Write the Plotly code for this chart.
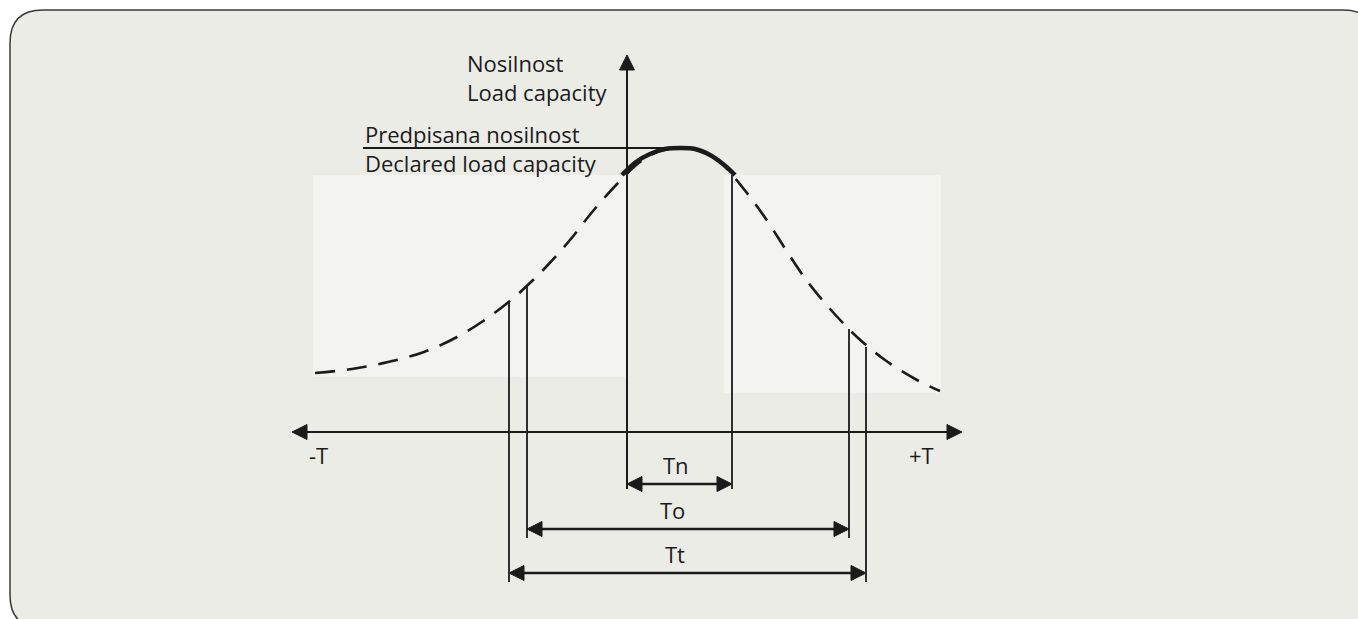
import plotly.graph_objects as go

# ---- data (diagram units = canvas pixels, y grows downward) ----
# dashed load-capacity curve
curve_t = [315, 352, 388, 424, 457, 489, 518, 545, 570, 593, 618, 640, 660, 680,
           700, 720, 743, 766, 786, 807, 831, 857, 885, 917, 940]
curve_c = [373, 369, 362, 352, 337, 317, 294, 268, 240, 211, 183, 162, 151, 148,
           151, 162, 188, 219, 250, 281, 310, 337, 360, 380, 391]
# solid arc (region meeting declared capacity)
arc_t = [622, 636, 650, 665, 680, 695, 710, 723, 735]
arc_c = [175, 162, 154, 149, 148, 149, 155, 164, 175]
declared_level = 148
declared_start = 363

axis_t = [292, 962]        # horizontal axis ends (-T, +T)
axis_level = 432
yaxis_t = 627
yaxis_top = 55

# intervals
interval_names = ["Tn", "To", "Tt"]
interval_left = [627, 527, 509]
interval_right = [732, 849, 866]
interval_level = [484, 529, 573]
interval_left_top = [55, 287, 303]
interval_right_top = [175, 329, 347]
interval_bottom = [489, 538, 582]
interval_label_x = [676, 672, 675]

INK = "#1b1b1b"
BG = "#ECECE7"
LIGHT = "#F3F3EF"
FONT = "Open Sans"

fig = go.Figure()

shapes = []
x0, y0, x1, y1, r = 10, 10, 1376, 628, 33
panel = (f"M {x0},{y0+r} Q {x0},{y0} {x0+r},{y0} L {x1-r},{y0} Q {x1},{y0} {x1},{y0+r} "
         f"L {x1},{y1-r} Q {x1},{y1} {x1-r},{y1} L {x0+r},{y1} Q {x0},{y1} {x0},{y1-r} Z")
shapes.append(dict(type="path", path=panel, xref="x", yref="y", fillcolor=BG,
                   line=dict(color="#3a3a3a", width=1.5), layer="below"))
shapes.append(dict(type="rect", x0=313, x1=626, y0=175, y1=377, xref="x", yref="y",
                   fillcolor=LIGHT, line=dict(width=0), layer="below"))
shapes.append(dict(type="rect", x0=724, x1=941, y0=175, y1=393, xref="x", yref="y",
                   fillcolor=LIGHT, line=dict(width=0), layer="below"))


def head(tx, ty, d, L=15, h=7.5):
    if d == "left":
        p = f"M {tx},{ty} L {tx+L},{ty-h} L {tx+L},{ty+h} Z"
    elif d == "right":
        p = f"M {tx},{ty} L {tx-L},{ty-h} L {tx-L},{ty+h} Z"
    else:
        p = f"M {tx},{ty} L {tx-h},{ty+L} L {tx+h},{ty+L} Z"
    return dict(type="path", path=p, xref="x", yref="y", fillcolor=INK,
                line=dict(color=INK, width=1))


def seg(xs, ys, w=1.8, dash=None):
    fig.add_trace(go.Scatter(x=xs, y=ys, mode="lines", hoverinfo="skip",
                             line=dict(color=INK, width=w, dash=dash), showlegend=False))


fig.add_trace(go.Scatter(x=curve_t, y=curve_c, mode="lines", hoverinfo="skip",
                         line=dict(color=INK, width=2.6, dash="20px,12px", shape="spline"),
                         showlegend=False))
seg([axis_t[0] + 10, axis_t[1] - 10], [axis_level, axis_level], 2)
seg([yaxis_t, yaxis_t], [yaxis_top + 10, interval_bottom[0]], 2)
shapes.append(head(axis_t[0], axis_level, "left"))
shapes.append(head(axis_t[1], axis_level, "right"))
shapes.append(head(yaxis_t, yaxis_top, "up"))
seg([declared_start, arc_t[4]], [declared_level, declared_level], 2)
fig.add_trace(go.Scatter(x=arc_t, y=arc_c, mode="lines", hoverinfo="skip",
                         line=dict(color=INK, width=4.5, shape="spline"), showlegend=False))

annotations = []
for i, name in enumerate(interval_names):
    l, rr, lv = interval_left[i], interval_right[i], interval_level[i]
    if i > 0:
        seg([l, l], [interval_left_top[i], interval_bottom[i]], 1.8)
    seg([rr, rr], [interval_right_top[i], interval_bottom[i]], 1.8)
    seg([l + 8, rr - 8], [lv, lv], 2.6)
    shapes.append(head(l, lv, "left"))
    shapes.append(head(rr, lv, "right"))
    annotations.append(dict(x=interval_label_x[i], y=lv - 19, text=name, showarrow=False,
                            xref="x", yref="y", font=dict(family=FONT, size=22, color=INK)))

texts = [("Nosilnost<br>Load capacity", 465, 77, "left", 22),
         ("Predpisana nosilnost<br>Declared load capacity", 363, 148, "left", 22),
         ("-T", 318, 455, "center", 22), ("+T", 921, 455, "center", 22)]
for t, x, y, a, s in texts:
    annotations.append(dict(x=x, y=y, text=t, showarrow=False, xanchor=a, yanchor="middle",
                            align="left", xref="x", yref="y",
                            font=dict(family=FONT, size=s, color=INK)))

fig.update_layout(width=1358, height=619, margin=dict(l=0, r=0, t=0, b=0),
                  paper_bgcolor="white", plot_bgcolor="white",
                  xaxis=dict(range=[0, 1358], visible=False, fixedrange=True),
                  yaxis=dict(range=[619, 0], visible=False, fixedrange=True),
                  shapes=shapes, annotations=annotations, showlegend=False)
fig.write_html("out.html", config={"displayModeBar": False},
               post_script="document.body.style.margin='0';document.body.style.overflow='hidden';")
